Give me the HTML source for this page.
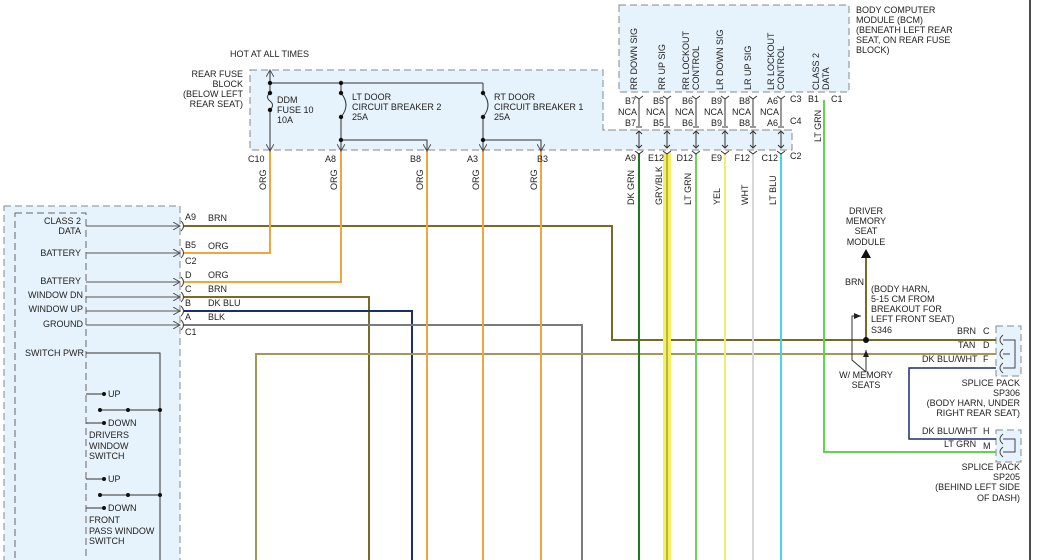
<!DOCTYPE html>
<html><head><meta charset="utf-8"><style>
html,body{margin:0;padding:0;background:#fff;}
svg{display:block;font-family:"Liberation Sans",sans-serif;font-size:9px;}
text{fill:#222;}
</style></head><body>
<svg id="d" width="1048" height="560" viewBox="0 0 1048 560" xmlns="http://www.w3.org/2000/svg">
<defs>
<marker id="ar" markerWidth="8" markerHeight="8" refX="7" refY="4" orient="auto"><path d="M0,0 L7,4 L0,8" fill="none" stroke="#555" stroke-width="1"/></marker>
<marker id="at" markerWidth="8" markerHeight="8" refX="7" refY="4" orient="auto"><path d="M0,1 L7,4 L0,7 z" fill="#222"/></marker>
</defs>
<g>
<path d="M250,70 H603 V130 H792 V150 H250 Z" fill="#e6f3fc" stroke="#888" stroke-dasharray="7,4"/>
<rect x="619" y="5" width="230" height="87" fill="#e6f3fc" stroke="#888" stroke-dasharray="7,4"/>
<path d="M603,92 V130 H792" fill="none" stroke="#888" stroke-dasharray="7,4"/>
<rect x="4" y="206" width="176" height="360" fill="#e6f3fc" stroke="#888" stroke-dasharray="7,4"/>
<rect x="15" y="213" width="71" height="360" fill="#e6f3fc" stroke="#666" stroke-dasharray="7,4"/>
<rect x="996" y="326" width="25" height="50" fill="#e6f3fc" stroke="#888" stroke-dasharray="7,4"/>
<rect x="996" y="430" width="25" height="32" fill="#e6f3fc" stroke="#888" stroke-dasharray="7,4"/>
<line x1="1030" y1="0" x2="1030" y2="560" stroke="#111" stroke-width="1.5"/>
</g>
<g id="wires"></g>
<g id="fuse" stroke="#333" fill="none" stroke-width="1">
<line x1="270" y1="88" x2="270" y2="70" marker-end="url(#ar)"/>
<path d="M270,83 H483 M270,83 V93 M270,110 V150 M341,83 V93 M341,117 V140 H427 V150 M483,83 V93 M483,117 V140 H541 V150 M341,140 V150 M483,140 V150"/>
<path d="M270,93 q-5,4 0,8 q5,4 0,9"/>
<path d="M341,93 q10,12 0,24"/><path d="M483,93 q10,12 0,24"/>
</g>
<g fill="#111">
<circle cx="270" cy="83" r="2.2"/><circle cx="270" cy="93" r="2.2"/><circle cx="270" cy="110" r="2.2"/>
<circle cx="341" cy="83" r="2.2"/><circle cx="341" cy="93" r="2.2"/><circle cx="341" cy="117" r="2.2"/><circle cx="341" cy="140" r="2.2"/>
<circle cx="483" cy="93" r="2.2"/><circle cx="483" cy="117" r="2.2"/><circle cx="483" cy="140" r="2.2"/>
<circle cx="866" cy="340" r="3"/>
</g>
<g>
<text x="230" y="57">HOT AT ALL TIMES</text>
<text x="243" y="77" text-anchor="end">REAR FUSE</text><text x="243" y="87" text-anchor="end">BLOCK</text>
<text x="243" y="97" text-anchor="end">(BELOW LEFT</text><text x="243" y="107" text-anchor="end">REAR SEAT)</text>
<text x="277" y="103">DDM</text><text x="277" y="113">FUSE 10</text><text x="277" y="123">10A</text>
<text x="352" y="100">LT DOOR</text><text x="352" y="110">CIRCUIT BREAKER 2</text><text x="352" y="120">25A</text>
<text x="494" y="100">RT DOOR</text><text x="494" y="110">CIRCUIT BREAKER 1</text><text x="494" y="120">25A</text>
<text x="248" y="162">C10</text><text x="325" y="162">A8</text><text x="410" y="162">B8</text><text x="467" y="162">A3</text><text x="537" y="162">B3</text>
</g>
<g>
<text x="856" y="13">BODY COMPUTER</text><text x="856" y="23">MODULE (BCM)</text><text x="856" y="33">(BENEATH LEFT REAR</text><text x="856" y="43">SEAT, ON REAR FUSE</text><text x="856" y="53">BLOCK)</text>
<text x="790" y="102">C3</text><text x="790" y="124">C4</text><text x="790" y="159">C2</text><text x="808" y="102">B1</text><text x="831" y="102">C1</text>
</g>
<g id="bcm"></g>
<g>
<text x="81" y="224" text-anchor="end">CLASS 2</text><text x="81" y="234" text-anchor="end">DATA</text>
<text x="81" y="256" text-anchor="end">BATTERY</text><text x="81" y="284" text-anchor="end">BATTERY</text>
<text x="83" y="298" text-anchor="end">WINDOW DN</text><text x="83" y="312" text-anchor="end">WINDOW UP</text>
<text x="83" y="327" text-anchor="end">GROUND</text><text x="84" y="356" text-anchor="end">SWITCH PWR</text>
<text x="185" y="220">A9</text><text x="185" y="248">B5</text><text x="185" y="264">C2</text>
<text x="185" y="278">D</text><text x="185" y="292">C</text><text x="185" y="306">B</text><text x="185" y="320">A</text><text x="185" y="335">C1</text>
<text x="208" y="221">BRN</text><text x="208" y="249">ORG</text><text x="208" y="278">ORG</text><text x="208" y="292">BRN</text><text x="208" y="306">DK BLU</text><text x="208" y="320">BLK</text>
</g>
<g id="sw" stroke="#333" fill="none">
<path d="M86,353 H160 V560"/>
<path d="M86,394 H103 M100,410 H160 M86,423 H103 M86,479 H103 M100,495 H160 M86,508 H103"/>
</g>
<g fill="#111">
<circle cx="104" cy="394" r="2"/><circle cx="100" cy="410" r="2"/><circle cx="128" cy="410" r="2"/><circle cx="160" cy="410" r="2"/><circle cx="104" cy="423" r="2"/>
<circle cx="104" cy="479" r="2"/><circle cx="100" cy="495" r="2"/><circle cx="128" cy="495" r="2"/><circle cx="160" cy="495" r="2"/><circle cx="104" cy="508" r="2"/>
</g>
<g>
<text x="108" y="397">UP</text><text x="108" y="426">DOWN</text><text x="89" y="438">DRIVERS</text><text x="89" y="449">WINDOW</text><text x="89" y="459">SWITCH</text>
<text x="108" y="482">UP</text><text x="108" y="511">DOWN</text><text x="89" y="523">FRONT</text><text x="89" y="534">PASS WINDOW</text><text x="89" y="544">SWITCH</text>
</g>
<g>
<text x="866" y="214" text-anchor="middle">DRIVER</text><text x="866" y="224" text-anchor="middle">MEMORY</text><text x="866" y="234" text-anchor="middle">SEAT</text><text x="866" y="245" text-anchor="middle">MODULE</text>
<text x="845" y="285">BRN</text>
<text x="871" y="292">(BODY HARN,</text><text x="871" y="302">5-15 CM FROM</text><text x="871" y="312">BREAKOUT FOR</text><text x="871" y="322">LEFT FRONT SEAT)</text><text x="871" y="333">S346</text>
<text x="866" y="378" text-anchor="middle">W/ MEMORY</text><text x="866" y="388" text-anchor="middle">SEATS</text>
<text x="957" y="334">BRN</text><text x="983" y="334">C</text><text x="958" y="348">TAN</text><text x="983" y="348">D</text>
<text x="922" y="362">DK BLU/WHT</text><text x="983" y="362">F</text>
<text x="1020" y="386" text-anchor="end">SPLICE PACK</text><text x="1020" y="396" text-anchor="end">SP306</text><text x="1020" y="406" text-anchor="end">(BODY HARN, UNDER</text><text x="1020" y="416" text-anchor="end">RIGHT REAR SEAT)</text>
<text x="922" y="434">DK BLU/WHT</text><text x="983" y="434">H</text><text x="944" y="447">LT GRN</text><text x="983" y="449">M</text>
<text x="1020" y="470" text-anchor="end">SPLICE PACK</text><text x="1020" y="480" text-anchor="end">SP205</text><text x="1020" y="490" text-anchor="end">(BEHIND LEFT SIDE</text><text x="1020" y="501" text-anchor="end">OF DASH)</text>
</g>
<g stroke="#333" fill="none">
<path d="M866,372 V350" marker-end="url(#at)"/>
<path d="M866,372 L852,360 V316 H861" marker-end="url(#at)"/>
</g>
<script>
const NS='http://www.w3.org/2000/svg';
const W=document.getElementById('wires');
const wireNames=['a9-brn','b5-org','d-org','c-brn','b-dkblu','a-blk','tan','b8-org','a3-org','b3-org','dkgrn','grybl-hl','grybl','ltgrn-d12','yel','wht','ltblu','ltgrn-class2','dkbluwht','memory-brn'];
const wireColors=['#7a6a25','#f0a540','#f0a540','#7a6a25','#1b2f6a','#7a7a80','#a8955a','#f0a540','#f0a540','#f0a540','#1f7a1f','#f4f060','#b0a030','#6cd35a','#f0ee70','#d8d8d8','#49d6d6','#5cd64a','#1b2f6a','#7a6a25'];
const wirePts=[
[[183,226],[612,226],[612,340],[996,340]],
[[183,253],[270,253],[270,150]],
[[183,282],[341,282],[341,150]],
[[183,297],[369,297],[369,560]],
[[183,311],[412,311],[412,560]],
[[183,325],[582,325],[582,560]],
[[256,560],[256,354],[996,354]],
[[427,150],[427,560]],[[483,150],[483,560]],[[541,150],[541,560]],
[[639,153],[639,560]],[[667,153],[667,560]],[[667,153],[667,560]],[[696,153],[696,560]],[[725,153],[725,560]],[[753,153],[753,560]],[[781,153],[781,560]],
[[824,100],[824,452],[996,452]],
[[996,368],[909,368],[909,439],[996,439]],
[[866,340],[866,258]]
];
const wireW=[2,2,2,2,2,2,2,2,2,2,2,8,1.5,2,2,2,2,2,1.5,2];
wirePts.forEach((p,i)=>{const l=document.createElementNS(NS,'polyline');
l.setAttribute('points',p.map(q=>q.join(',')).join(' '));
l.setAttribute('fill','none');l.setAttribute('stroke',wireColors[i]);l.setAttribute('stroke-width',wireW[i]);


W.appendChild(l);});
const tri=document.createElementNS(NS,'path');tri.setAttribute('d','M861,258 L866,249 L871,258 Z');tri.setAttribute('fill','#111');W.appendChild(tri);
const armY=[226,253,282,297,311,325];
armY.forEach(y=>{const l=document.createElementNS(NS,'line');l.setAttribute('x1',86);l.setAttribute('x2',180);l.setAttribute('y1',y);l.setAttribute('y2',y);l.setAttribute('stroke','#555');l.setAttribute('marker-end','url(#ar)');


W.appendChild(l);});
[270,341,427,483,541].forEach(x=>{const l=document.createElementNS(NS,'line');l.setAttribute('x1',x);l.setAttribute('x2',x);l.setAttribute('y1',140);l.setAttribute('y2',151);l.setAttribute('stroke','#555');l.setAttribute('marker-end','url(#ar)');W.appendChild(l);});
[340,354,368,439,452].forEach(y=>{const p=document.createElementNS(NS,'path');p.setAttribute('d',`M1003,${y-5} q-6,5 0,10 M1003,${y} H1010`);p.setAttribute('stroke','#444');p.setAttribute('fill','none');W.appendChild(p);});
const sp=document.createElementNS(NS,'path');sp.setAttribute('d','M1010,340 H1015 V368 H1010 M1010,439 H1015 V452 H1010');sp.setAttribute('stroke','#444');sp.setAttribute('fill','none');W.appendChild(sp);
const B=document.getElementById('bcm');
const pinX=[639,667,696,725,753,781];
const sigNames=['RR DOWN SIG','RR UP SIG','RR LOCKOUT|CONTROL','LR DOWN SIG','LR UP SIG','LR LOCKOUT|CONTROL'];
const pinTop=['B7','B5','B6','B9','B8','A6'];
const pinBot=['A9','E12','D12','E9','F12','C12'];
const wireLbl=['DK GRN','GRY/BLK','LT GRN','YEL','WHT','LT BLU'];
function txt(x,y,s,rot,anchor){const t=document.createElementNS(NS,'text');t.setAttribute('x',x);t.setAttribute('y',y);t.textContent=s;if(anchor)t.setAttribute('text-anchor',anchor);if(rot)t.setAttribute('transform',`rotate(-90 ${x} ${y})`);B.appendChild(t);return t;}
pinX.forEach((x,i)=>{
 const parts=sigNames[i].split('|');
 if(parts.length==1) txt(x-2,90,parts[0],true); else {txt(x-7,90,parts[0],true);txt(x+3,90,parts[1],true);}
 txt(x-3,104,pinTop[i],false,'end');txt(x-2,115,'NCA',false,'end');txt(x-3,126,pinTop[i],false,'end');
 txt(x-3,161,pinBot[i],false,'end');
 txt(x-5,205,wireLbl[i],true,'start');
 const l=document.createElementNS(NS,'path');l.setAttribute('d',`M${x-4},96 L${x},99 L${x+4},96 M${x},99 V126 M${x-3},127 H${x+3} M${x},131 V148 M${x-3},134 L${x},131 L${x+3},134 M${x-3},145 L${x},148 L${x+3},145 M${x-4},151 L${x},154 L${x+4},151`);
 l.setAttribute('stroke','#333');l.setAttribute('fill','none');
 
 
 B.appendChild(l);
});
txt(819,90,'CLASS 2',true);txt(829,90,'DATA',true);txt(821,142,'LT GRN',true);
[270,341,427,483,541].forEach(x=>{txt(x-4,190,'ORG',true,'start');});
[226,253,282,297,311,325].forEach(y=>{const p=document.createElementNS(NS,'path');p.setAttribute('d',`M181,${y-5} q5,5 0,10`);p.setAttribute('stroke','#444');p.setAttribute('fill','none');B.appendChild(p);});
</script>
</svg>
</body></html>
